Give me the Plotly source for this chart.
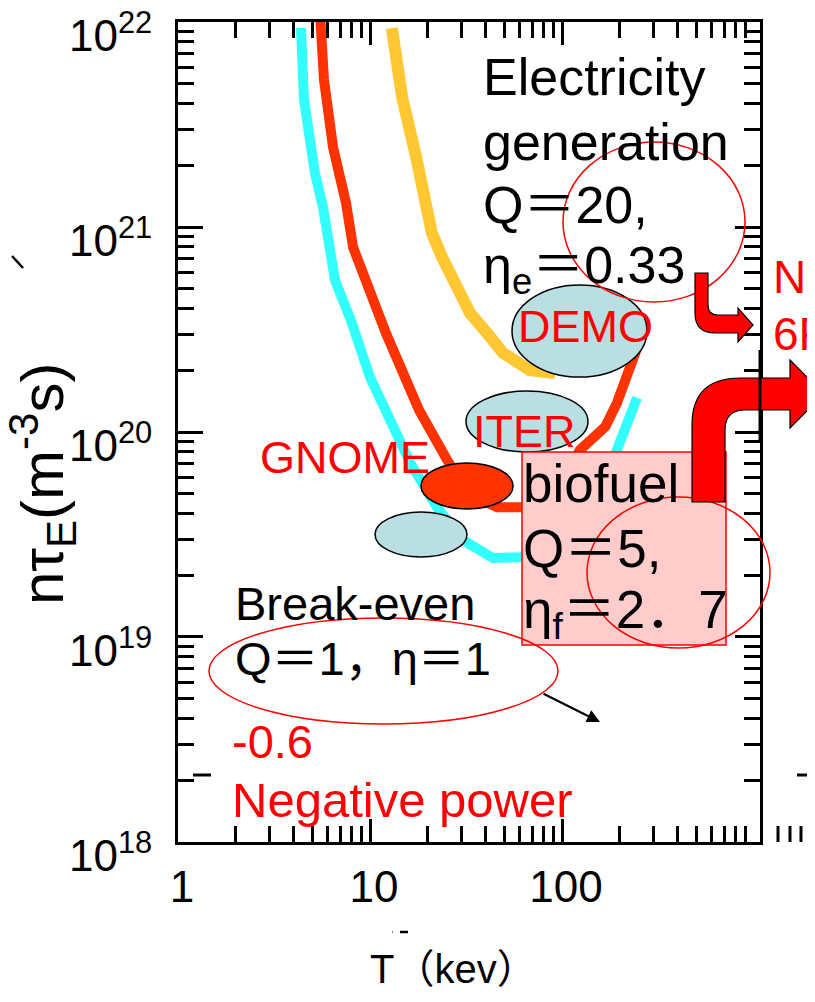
import plotly.graph_objects as go

# ---------------- data ----------------
# cyan curve (break-even)
T_cyan = [4.37, 4.53, 5.17, 5.69, 6.57, 7.96, 10.0, 12.7, 16.2, 22.3, 30.5, 43.7, 60.4, 97.7, 140, 193, 246]
nt_cyan = [9.35e21, 4.17e21, 1.83e21, 1.25e21, 5.5e20, 3.5e20, 1.85e20, 1.11e20, 7.06e19, 4.3e19,
           2.97e19, 2.43e19, 2.45e19, 2.81e19, 4.17e19, 8.17e19, 1.47e20]
# red curve (Q=5)
T_red = [5.49, 5.76, 6.42, 7.50, 8.16, 10.0, 12.1, 18.0, 25.2, 33.2, 45.9, 62.6, 92, 124, 168, 193, 213, 232, 249]
nt_red = [1.107e22, 5.21e21, 2.45e21, 1.31e21, 7.98e20, 4.76e20, 3.04e20, 1.28e20, 7.3e19, 4.93e19,
          4.30e19, 4.30e19, 4.93e19, 8.17e19, 1.06e20, 1.38e20, 1.73e20, 2.19e20, 2.65e20]
# yellow curve (Q=20)
T_yel = [13.0, 14.7, 17.4, 19.1, 21.0, 23.7, 28.1, 33.2, 40.7, 49.3, 68.1, 92]
nt_yel = [9.35e21, 4.30e21, 2.19e21, 1.31e21, 9.35e20, 7.15e20, 5.33e20, 3.80e20, 3.04e20, 2.43e20, 2.00e20, 1.94e20]

x_tickvals = [1, 10, 100]
x_ticktext = ["1", "10", "100"]
y_tickvals = [1e18, 1e19, 1e20, 1e21, 1e22]
y_ticktext = ["10<sup>18</sup>", "10<sup>19</sup>", "10<sup>20</sup>", "10<sup>21</sup>", "10<sup>22</sup>"]

# ---------------- layout helpers ----------------
W, H = 815, 1002
OFF = 8  # page body margin of the exported html
L, R, T, B = 178, 760, 22, 842   # plot box in window pixels
FONT = "Liberation Sans, Arial, Noto Sans CJK JP, sans-serif"


def px(x):
    return (x - L) / (R - L)


def py(y):
    return (B - y) / (B - T)


fig = go.Figure()
fig.add_trace(go.Scatter(x=T_cyan, y=nt_cyan, mode="lines", line=dict(color="#33FFFF", width=10), showlegend=False))
fig.add_trace(go.Scatter(x=T_red, y=nt_red, mode="lines", line=dict(color="#FF3300", width=10), showlegend=False))
fig.add_trace(go.Scatter(x=T_yel, y=nt_yel, mode="lines", line=dict(color="#FFC833", width=12), showlegend=False))

shapes = []


def ellipse(x0, x1, y_top, y_bot, fill=None, line_color="black", lw=1.5):
    shapes.append(dict(type="circle", xref="paper", yref="paper", layer="above",
                       x0=px(x0), x1=px(x1), y0=py(y_bot), y1=py(y_top),
                       fillcolor=fill if fill else "rgba(0,0,0,0)",
                       line=dict(color=line_color, width=lw)))


LB = "#B9DFE3"
ellipse(512, 647, 285, 377, LB)      # DEMO
ellipse(466, 588, 391, 452, LB)      # ITER
ellipse(421, 513, 463, 509, "#FF3300")  # GNOME
ellipse(375, 467, 512, 557, LB)      # small

# biofuel box
shapes.append(dict(type="rect", xref="paper", yref="paper", layer="above",
                   x0=px(522), x1=px(726), y0=py(645), y1=py(452),
                   fillcolor="#FFCCCC", line=dict(color="#FF0000", width=1.5)))

# red outline circles
ellipse(587, 770, 497, 648, None, "#FF0000", 1.5)
ellipse(563, 745, 142, 302, None, "#FF0000", 1.5)
ellipse(209, 558, 618, 724, None, "#FF0000", 1.5)


def path(points_cmds):
    out = []
    for c in points_cmds:
        if isinstance(c, str):
            out.append(c)
        else:
            out.append(f"{px(c[0]):.5f},{py(c[1]):.5f}")
    return " ".join(out)


small_arrow = path(["M", (695, 273), "L", (708, 273), "L", (708, 305), "Q", (708, 315), (718, 315),
                    "L", (738, 315), "L", (738, 308), "L", (753, 325), "L", (738, 342), "L", (738, 333),
                    "L", (715, 333), "Q", (695, 333), (695, 313), "Z"])
big_arrow = path(["M", (692, 502), "L", (692, 425), "Q", (692, 378), (740, 378), "L", (790, 378),
                  "L", (790, 360), "L", (824, 394), "L", (790, 428), "L", (790, 410), "L", (745, 410),
                  "Q", (725, 410), (725, 430), "L", (725, 502), "Z"])
shapes.append(dict(type="path", xref="paper", yref="paper", layer="above", path=small_arrow,
                   fillcolor="#FF0000", line=dict(color="black", width=1.2)))
shapes.append(dict(type="path", xref="paper", yref="paper", layer="above", path=big_arrow,
                   fillcolor="#FF0000", line=dict(color="black", width=1.2)))
# right axis line over the big arrow
shapes.append(dict(type="line", xref="paper", yref="paper", layer="above",
                   x0=1, x1=1, y0=py(440), y1=py(350), line=dict(color="black", width=3)))

# stray marks of the original picture
for (a, b, c, d, w) in [(12, 256, 23, 268, 2.5), (400, 932, 408, 932, 2.5), (392, 932, 393, 932, 1),
                        (193, 775, 211, 775, 3), (797, 775, 813, 775, 3),
                        (778, 826, 778, 842, 3), (790, 826, 790, 842, 3), (801, 826, 801, 842, 3)]:
    shapes.append(dict(type="line", xref="paper", yref="paper", layer="above",
                       x0=px(a), y0=py(b), x1=px(c), y1=py(d), line=dict(color="black", width=w)))

annotations = []


def text(s, x, base, size, color="black", anchor="left", family=FONT):
    annotations.append(dict(text=s, xref="paper", yref="paper", x=px(x), y=py(base - 0.35 * size),
                            xanchor=anchor, yanchor="middle", showarrow=False,
                            font=dict(family=family, size=size, color=color)))


text("Electricity", 481, 95, 52)
text("generation", 481, 160, 52)
text("Q＝20,", 481, 223, 52)
text("η<sub>e</sub>＝0.33", 481, 287, 52)
text("biofuel", 521, 502, 53)
text("Q＝5,", 521, 567, 53)
text("η<sub>f</sub>＝2．7", 521, 632, 53)
text("Break-even", 233, 620, 47)
text("Q＝1，η＝1", 233, 675, 47)
text("-0.6", 230, 758, 47, "#FF0000")
text("Negative power", 230, 817, 49, "#FF0000")
text("GNOME", 258, 473, 45, "#FF0000")
text("ITER", 471, 447, 45, "#FF0000")
text("DEMO", 516, 342, 45, "#FF0000")
text("Ne", 771, 293, 46, "#FF0000")
text("6P", 771, 350, 46, "#FF0000")
text("T（kev）", 453, 983, 40, anchor="center")

# arrow from the break-even ellipse
annotations.append(dict(x=px(600), y=py(722), xref="paper", yref="paper", ax=-58, ay=-29,
                        showarrow=True, arrowhead=2, arrowsize=1.3, arrowwidth=2, arrowcolor="black", text=""))

# y axis title
annotations.append(dict(text="nτ<sub>E</sub>(m<sup>-3</sup>s)", xref="paper", yref="paper",
                        x=px(42), y=py(484), textangle=-90, showarrow=False,
                        xanchor="center", yanchor="middle",
                        font=dict(family=FONT, size=60, color="black")))

minor_x = [float(k) * 10.0 ** e for e in range(0, 3) for k in range(2, 10)]
minor_y = [float(k) * 10.0 ** e for e in range(18, 22) for k in range(2, 10)]

fig.update_layout(
    width=W, height=H,
    margin=dict(l=L - OFF, r=W - R + OFF, t=T - OFF, b=H - B + OFF, autoexpand=False),
    paper_bgcolor="white", plot_bgcolor="white",
    shapes=shapes, annotations=annotations,
    showlegend=False,
    xaxis=dict(type="log", range=[0, (R - L) / 192], showgrid=False, zeroline=False, automargin=False,
               showline=True, linecolor="black", linewidth=3, mirror="ticks",
               ticks="inside", ticklen=23, tickwidth=3, tickcolor="black",
               tickmode="array", tickvals=x_tickvals, ticktext=x_ticktext,
               tickfont=dict(family=FONT, size=44, color="black"), ticklabelstandoff=4,
               ticklabelshift=4, ticklabeloverflow="allow",
               minor=dict(tickmode="array", tickvals=minor_x, ticks="inside", ticklen=16,
                          tickwidth=3, tickcolor="black", showgrid=False)),
    yaxis=dict(type="log", range=[17.9998, 22.0002], showgrid=False, zeroline=False, automargin=False,
               showline=True, linecolor="black", linewidth=3, mirror="ticks",
               ticks="inside", ticklen=25, tickwidth=3, tickcolor="black",
               tickmode="array", tickvals=y_tickvals, ticktext=y_ticktext,
               tickfont=dict(family=FONT, size=44, color="black"), ticklabelstandoff=14,
               ticklabelshift=14, ticklabeloverflow="allow",
               minor=dict(tickmode="array", tickvals=minor_y, ticks="inside", ticklen=16,
                          tickwidth=3, tickcolor="black", showgrid=False)),
)

fig.write_html("out.html")
